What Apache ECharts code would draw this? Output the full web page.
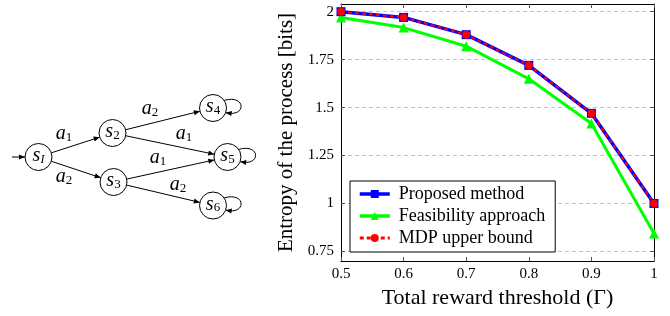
<!DOCTYPE html>
<html>
<head>
<meta charset="utf-8">
<script src="https://cdn.jsdelivr.net/npm/echarts@6/dist/echarts.min.js"></script>
<style>
  html, body { margin: 0; padding: 0; background: #fff; }
  #main { width: 670px; height: 316px; }
</style>
</head>
<body>
<div id="main"></div>
<script>
// data
var thresholds = [0.5, 0.6, 0.7, 0.8, 0.9, 1.0];
var proposed = [2.0, 1.97, 1.88, 1.72, 1.47, 1.0];
var feasibility = [1.97, 1.917, 1.82, 1.65, 1.417, 0.843];
var mdpBound = [2.0, 1.97, 1.88, 1.72, 1.47, 1.0];
var yTicks = [0.75, 1, 1.25, 1.5, 1.75, 2];

// state diagram (layout only)
var states = [
    { sub: 'I', x: 38.5, y: 157 },
    { sub: '2', x: 112.5, y: 133 },
    { sub: '3', x: 113.5, y: 182 },
    { sub: '4', x: 213, y: 108 },
    { sub: '5', x: 227.5, y: 157 },
    { sub: '6', x: 213, y: 205.5 }
];
var transitions = [[0, 1], [0, 2], [1, 3], [1, 4], [2, 4], [2, 5]];
var actionLabels = [
    { sub: '1', x: 64, y: 134 },
    { sub: '2', x: 64, y: 177 },
    { sub: '2', x: 150, y: 109 },
    { sub: '1', x: 184, y: 134 },
    { sub: '1', x: 158, y: 158 },
    { sub: '2', x: 178, y: 185 }
];
var loops = [3, 4, 5];
var R = 13.5;

var mathRich = {
    m: { fontFamily: 'Liberation Serif', fontStyle: 'italic', fontSize: 20, fill: '#000' },
    mi: { fontFamily: 'Liberation Serif', fontStyle: 'italic', fontSize: 12, fill: '#000', padding: [7, 0, 0, 0] },
    d: { fontFamily: 'Liberation Serif', fontSize: 13, fill: '#000', padding: [7, 0, 0, 0] }
};

function arrowHead(x, y, ang) {
    var l = 6, w = 2.6;
    var c = Math.cos(ang), s = Math.sin(ang);
    return {
        type: 'polygon',
        shape: { points: [[x, y], [x - l * c + w * s, y - l * s - w * c], [x - l * c - w * s, y - l * s + w * c]] },
        style: { fill: '#000' }
    };
}

var diagram = [];
// initial arrow
diagram.push({ type: 'line', shape: { x1: 12, y1: 157, x2: states[0].x - R, y2: 157 }, style: { stroke: '#000', lineWidth: 1 } });
diagram.push(arrowHead(states[0].x - R, 157, 0));

transitions.forEach(function (t) {
    var a = states[t[0]], b = states[t[1]];
    var ang = Math.atan2(b.y - a.y, b.x - a.x);
    var x1 = a.x + R * Math.cos(ang), y1 = a.y + R * Math.sin(ang);
    var x2 = b.x - R * Math.cos(ang), y2 = b.y - R * Math.sin(ang);
    diagram.push({ type: 'line', shape: { x1: x1, y1: y1, x2: x2, y2: y2 }, style: { stroke: '#000', lineWidth: 1 } });
    diagram.push(arrowHead(x2, y2, ang));
});

loops.forEach(function (i) {
    var n = states[i];
    var a1 = -0.6, a2 = 0.35;
    var sx = n.x + R * Math.cos(a1), sy = n.y + R * Math.sin(a1);
    var ex = n.x + R * Math.cos(a2), ey = n.y + R * Math.sin(a2);
    diagram.push({
        type: 'bezierCurve',
        shape: { x1: sx, y1: sy, cpx1: n.x + R + 20, cpy1: n.y - 14, cpx2: n.x + R + 20, cpy2: n.y + 10, x2: ex, y2: ey },
        style: { stroke: '#000', lineWidth: 1, fill: null }
    });
    diagram.push(arrowHead(ex, ey, Math.PI + 0.15));
});

states.forEach(function (n) {
    diagram.push({ type: 'circle', shape: { cx: n.x, cy: n.y, r: R }, style: { fill: '#fff', stroke: '#000', lineWidth: 1 } });
    diagram.push({
        type: 'text', x: n.x, y: n.y - 1,
        style: {
            text: '{m|s}{' + (n.sub === 'I' ? 'mi' : 'd') + '|' + n.sub + '}',
            rich: mathRich, align: 'center', verticalAlign: 'middle'
        }
    });
});

actionLabels.forEach(function (l) {
    diagram.push({
        type: 'text', x: l.x, y: l.y,
        style: { text: '{m|a}{d|' + l.sub + '}', rich: mathRich, align: 'center', verticalAlign: 'middle' }
    });
});

function pairs(vals) {
    return thresholds.map(function (x, i) { return [x, vals[i]]; });
}

var serif = 'Liberation Serif';
var myChart = echarts.init(document.getElementById('main'));
myChart.setOption({
    animation: false,
    graphic: diagram,
    grid: { left: 341, right: 16, top: 4, bottom: 55 },
    legend: {
        orient: 'vertical',
        left: 350,
        top: 181,
        data: [
            { name: 'Proposed method', lineStyle: { width: 3.5 } },
            { name: 'Feasibility approach', lineStyle: { width: 3.5 } },
            { name: 'MDP upper bound', lineStyle: { width: 3 } }
        ],
        backgroundColor: '#fff',
        borderColor: '#000',
        borderWidth: 1,
        padding: [4, 10, 5, 8],
        itemGap: 4,
        itemWidth: 30,
        itemHeight: 10,
        textStyle: { fontFamily: serif, fontSize: 18, color: '#000', padding: [0, 0, 0, 4] }
    },
    xAxis: [
        {
            type: 'value', min: 0.5, max: 1, interval: 0.1,
            name: 'Total reward threshold (\u0393)',
            nameLocation: 'middle', nameGap: 24,
            nameTextStyle: { fontFamily: serif, fontSize: 22, color: '#000' },
            axisLine: { lineStyle: { color: '#000', width: 1 } },
            axisTick: { inside: true, length: 4, lineStyle: { color: '#555' } },
            axisLabel: { fontFamily: serif, fontSize: 15, color: '#000', margin: 6 },
            splitLine: { show: false }
        },
        {
            type: 'value', min: 0.5, max: 1, interval: 0.1, position: 'top',
            axisLine: { lineStyle: { color: '#000', width: 1 } },
            axisTick: { inside: true, length: 4, lineStyle: { color: '#555' } },
            axisLabel: { show: false },
            splitLine: { show: false }
        }
    ],
    yAxis: [
        {
            type: 'value', min: 0.7, max: 2.04,
            name: 'Entropy of the process [bits]',
            nameLocation: 'middle', nameGap: 44,
            nameTextStyle: { fontFamily: serif, fontSize: 21, color: '#000' },
            axisLine: { show: true, lineStyle: { color: '#000', width: 1 } },
            axisTick: { show: true, inside: true, length: 4, customValues: yTicks, lineStyle: { color: '#555' } },
            axisLabel: { fontFamily: serif, fontSize: 15, color: '#000', margin: 7, customValues: yTicks },
            splitLine: { show: true, lineStyle: { color: '#c4c4c4', type: [4, 3], width: 1 } }
        },
        {
            type: 'value', min: 0.7, max: 2.04, position: 'right',
            axisLine: { show: true, lineStyle: { color: '#000', width: 1 } },
            axisTick: { show: true, inside: true, length: 4, customValues: yTicks, lineStyle: { color: '#555' } },
            axisLabel: { show: false },
            splitLine: { show: false }
        }
    ],
    series: [
        {
            name: 'Feasibility approach', type: 'line', data: pairs(feasibility),
            color: '#00ff00', symbol: 'triangle', symbolSize: 10,
            lineStyle: { width: 3 }
        },
        {
            name: 'Proposed method', type: 'line', data: pairs(proposed),
            color: '#0000ff', symbol: 'rect', symbolSize: 9,
            lineStyle: { width: 3.5 }
        },
        {
            name: 'MDP upper bound', type: 'line', data: pairs(mdpBound),
            color: '#ff0000', symbol: 'circle', symbolSize: 8,
            lineStyle: { width: 2, type: [4, 3] }
        }
    ]
});
</script>
</body>
</html>
